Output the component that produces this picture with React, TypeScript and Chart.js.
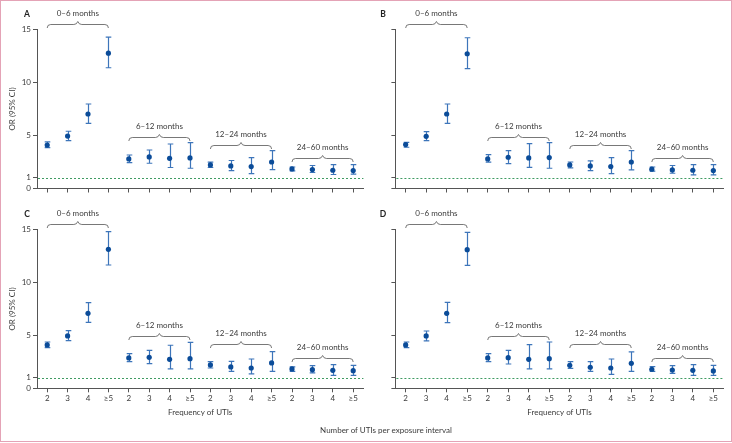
import React, { useEffect, useRef } from 'react';
import { Chart, registerables } from 'chart.js';

Chart.register(...registerables);

const frequencies = ['2', '3', '4', '≥5'];
const intervals = ['0–6 months', '6–12 months', '12–24 months', '24–60 months'];
const xLabels = intervals.flatMap(() => frequencies);
const yTicks = [0, 1, 5, 10, 15];
const bracketLevels = [15.55, 4.9, 4.15, 2.9];

const orA = [4.1, 4.95, 7.03, 12.77, 2.79, 2.98, 2.85, 2.88, 2.22, 2.13, 2.07, 2.5, 1.85, 1.79, 1.72, 1.69];
const lowA = [3.86, 4.52, 6.15, 11.39, 2.45, 2.38, 1.98, 1.91, 1.98, 1.69, 1.41, 1.79, 1.66, 1.51, 1.32, 1.35];
const highA = [4.39, 5.4, 7.97, 14.28, 3.16, 3.63, 4.2, 4.33, 2.48, 2.64, 2.92, 3.58, 2.03, 2.17, 2.26, 2.26];

const orB = [4.14, 4.92, 7.03, 12.71, 2.79, 2.95, 2.88, 2.92, 2.22, 2.13, 2.07, 2.5, 1.82, 1.75, 1.72, 1.69];
const lowB = [3.89, 4.52, 6.15, 11.3, 2.48, 2.35, 2.0, 1.91, 1.94, 1.69, 1.41, 1.75, 1.63, 1.44, 1.28, 1.28];
const highB = [4.36, 5.37, 7.97, 14.22, 3.2, 3.58, 4.24, 4.33, 2.5, 2.6, 2.92, 3.58, 2.03, 2.17, 2.26, 2.26];

const orC = [4.1, 4.95, 7.09, 13.14, 2.87, 2.93, 2.74, 2.8, 2.21, 2.02, 1.92, 2.4, 1.83, 1.76, 1.7, 1.67];
const lowC = [3.84, 4.51, 6.24, 11.66, 2.52, 2.33, 1.83, 1.83, 1.92, 1.61, 1.36, 1.61, 1.61, 1.45, 1.23, 1.23];
const highC = [4.38, 5.45, 8.1, 14.81, 3.28, 3.59, 4.07, 4.35, 2.52, 2.55, 2.77, 3.47, 2.02, 2.14, 2.24, 2.17];

const orD = [4.1, 4.95, 7.09, 13.11, 2.87, 2.9, 2.74, 2.8, 2.17, 1.99, 1.92, 2.36, 1.8, 1.73, 1.7, 1.64];
const lowD = [3.84, 4.48, 6.21, 11.63, 2.52, 2.3, 1.83, 1.83, 1.89, 1.61, 1.32, 1.61, 1.61, 1.42, 1.23, 1.23];
const highD = [4.38, 5.42, 8.13, 14.75, 3.28, 3.59, 4.13, 4.38, 2.52, 2.52, 2.77, 3.44, 2.05, 2.14, 2.24, 2.17];

const FONT = 'Lato';
const TEXT = '#3a3a3a';
const AXIS = '#555555';
const WHISKER = '#3d75ba';
const POINT = '#0b4c99';
const REF = '#3f9b62';

type Geo = {
  left: number; top: number; width: number; height: number;
  padTop: number; padRight: number; yWidth: number; xHeight: number;
  letterX: number; letterY: number;
};

type PanelProps = {
  letter: string; or: number[]; lo: number[]; hi: number[];
  showY: boolean; showX: boolean; geo: Geo;
};

function Panel({ letter, or, lo, hi, showY, showX, geo }: PanelProps) {
  const ref = useRef<HTMLCanvasElement | null>(null);
  useEffect(() => {
    const canvas = ref.current;
    if (!canvas) return;
    const decor = {
      id: 'decor',
      beforeDatasetsDraw(chart: any) {
        const { ctx, chartArea, scales } = chart;
        const x = scales.x, y = scales.y;
        ctx.save();
        // reference line at OR = 1
        ctx.strokeStyle = REF;
        ctx.lineWidth = 1;
        ctx.setLineDash([2, 2]);
        const y1 = Math.round(y.getPixelForValue(1)) + 0.5;
        ctx.beginPath();
        ctx.moveTo(chartArea.left + 1, y1);
        ctx.lineTo(chartArea.right, y1);
        ctx.stroke();
        ctx.setLineDash([]);
        // error bars
        ctx.strokeStyle = WHISKER;
        ctx.lineWidth = 1.2;
        lo.forEach((l, i) => {
          const px = Math.round(x.getPixelForValue(i)) + 0.5;
          const pl = y.getPixelForValue(l);
          const ph = y.getPixelForValue(hi[i]);
          ctx.beginPath();
          ctx.moveTo(px, pl); ctx.lineTo(px, ph);
          ctx.moveTo(px - 2.8, pl); ctx.lineTo(px + 2.8, pl);
          ctx.moveTo(px - 2.8, ph); ctx.lineTo(px + 2.8, ph);
          ctx.stroke();
        });
        ctx.restore();
      },
      afterDraw(chart: any) {
        const { ctx, scales } = chart;
        const x = scales.x, y = scales.y;
        ctx.save();
        ctx.strokeStyle = AXIS;
        ctx.lineWidth = 0.8;
        ctx.fillStyle = TEXT;
        ctx.font = `8px ${FONT}`;
        ctx.textAlign = 'center';
        ctx.textBaseline = 'middle';
        intervals.forEach((label, g) => {
          const x1 = x.getPixelForValue(g * 4);
          const x2 = x.getPixelForValue(g * 4 + 3);
          const xm = (x1 + x2) / 2;
          const yb = Math.round(y.getPixelForValue(bracketLevels[g])) + 0.5;
          ctx.beginPath();
          ctx.moveTo(x1, yb + 3.5);
          ctx.quadraticCurveTo(x1, yb, x1 + 3.5, yb);
          ctx.lineTo(xm - 4, yb);
          ctx.quadraticCurveTo(xm - 1, yb, xm, yb - 3);
          ctx.quadraticCurveTo(xm + 1, yb, xm + 4, yb);
          ctx.lineTo(x2 - 3.5, yb);
          ctx.quadraticCurveTo(x2, yb, x2, yb + 3.5);
          ctx.stroke();
          ctx.fillText(label, xm, yb - 11);
        });
        ctx.font = `bold 8.5px ${FONT}`;
        ctx.fillStyle = '#222';
        ctx.fillText(letter, geo.letterX, geo.letterY);
        ctx.restore();
      },
    };
    const font = { family: FONT, size: 8 };
    const chart = new Chart(canvas, {
      type: 'line',
      data: {
        labels: xLabels,
        datasets: [{
          data: or,
          showLine: false,
          pointRadius: 2.6,
          pointBackgroundColor: POINT,
          pointBorderWidth: 0,
          pointHoverRadius: 2.6,
        }],
      },
      options: {
        responsive: false,
        animation: false,
        events: [],
        layout: { padding: { top: geo.padTop, right: geo.padRight, left: 0, bottom: 0 } },
        plugins: { legend: { display: false }, tooltip: { enabled: false } },
        scales: {
          x: {
            type: 'category',
            offset: true,
            grid: { display: true, drawOnChartArea: false, drawTicks: true, tickLength: 4, color: AXIS, offset: false },
            border: { display: true, color: AXIS, width: 1 },
            ticks: {
              autoSkip: false, maxRotation: 0, padding: 1, font, color: TEXT,
              callback: (_v: any, i: number) => (showX ? xLabels[i] : ''),
            },
            title: {
              display: showX, text: 'Frequency of UTIs', font, color: TEXT,
              padding: { top: 0, bottom: 26 },
            },
            afterFit: (s: any) => { s.height = geo.xHeight; s.paddingLeft = 0; s.paddingRight = 0; },
          },
          y: {
            type: 'linear',
            min: 0,
            max: 15,
            afterBuildTicks: (s: any) => { s.ticks = yTicks.map((v) => ({ value: v })); },
            grid: { display: true, drawOnChartArea: false, drawTicks: true, tickLength: 4, color: AXIS },
            border: { display: true, color: AXIS, width: 1 },
            ticks: {
              autoSkip: false, padding: 2, font, color: TEXT,
              callback: (v: any) => (showY ? String(v) : ''),
            },
            title: {
              display: showY, text: 'OR (95% CI)', font, color: TEXT,
              padding: { top: 7.7, bottom: 0 },
            },
            afterFit: (s: any) => { s.width = geo.yWidth; s.paddingTop = 0; s.paddingBottom = 0; },
          },
        },
      },
      plugins: [decor],
    } as any);
    return () => chart.destroy();
  }, []);
  return (
    <canvas
      ref={ref}
      width={geo.width}
      height={geo.height}
      style={{ position: 'absolute', left: geo.left, top: geo.top, width: geo.width, height: geo.height }}
    />
  );
}

const geoA: Geo = { left: 0, top: 0, width: 366, height: 205, padTop: 29.5, padRight: 0, yWidth: 37, xHeight: 16.5, letterX: 27, letterY: 14 };
const geoB: Geo = { left: 366, top: 0, width: 366, height: 205, padTop: 29.5, padRight: 8.4, yWidth: 29.4, xHeight: 16.5, letterX: 17, letterY: 14 };
const geoC: Geo = { left: 0, top: 205, width: 366, height: 238, padTop: 24.7, padRight: 0, yWidth: 37, xHeight: 54.7, letterX: 27, letterY: 9.5 };
const geoD: Geo = { left: 366, top: 205, width: 366, height: 238, padTop: 24.7, padRight: 8.4, yWidth: 29.4, xHeight: 54.7, letterX: 17, letterY: 9.5 };

export default function App() {
  return (
    <div style={{ position: 'absolute', left: 0, top: 0, width: 732, height: 443, background: '#fff', overflow: 'hidden' }}>
      <Panel letter="A" or={orA} lo={lowA} hi={highA} showY={true} showX={false} geo={geoA} />
      <Panel letter="B" or={orB} lo={lowB} hi={highB} showY={false} showX={false} geo={geoB} />
      <Panel letter="C" or={orC} lo={lowC} hi={highC} showY={true} showX={true} geo={geoC} />
      <Panel letter="D" or={orD} lo={lowD} hi={highD} showY={false} showX={true} geo={geoD} />
      <div style={{ position: 'absolute', left: 0, top: 425, width: 772, textAlign: 'center', font: `8px ${FONT}`, lineHeight: '10px', color: TEXT }}>
        Number of UTIs per exposure interval
      </div>
      <div style={{ position: 'absolute', left: 0, top: 0, width: 732, height: 442, boxSizing: 'border-box', border: '1px solid #e4a3b6', pointerEvents: 'none' }} />
    </div>
  );
}
